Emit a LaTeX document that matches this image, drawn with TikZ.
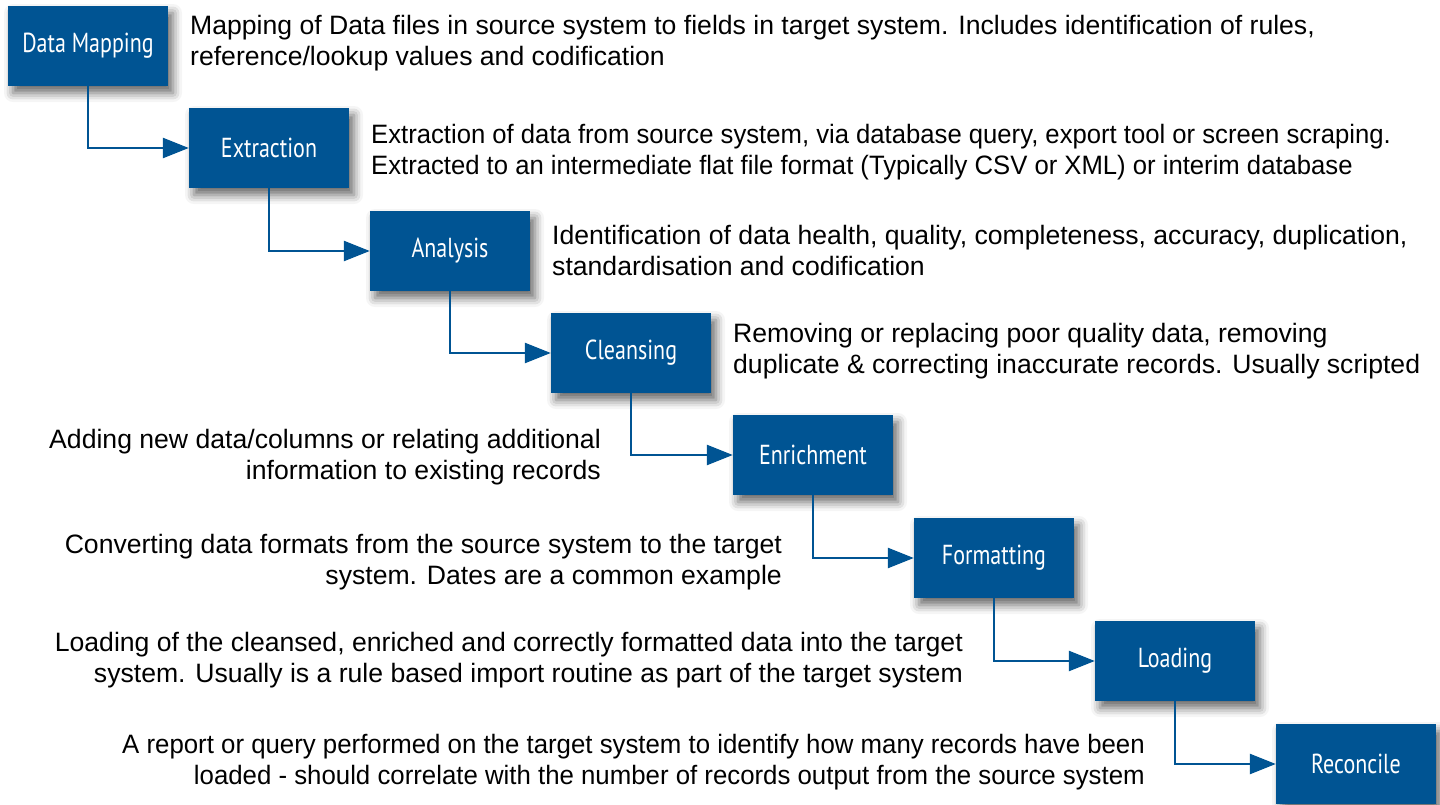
\documentclass[tikz,border=0pt]{standalone}
\usepackage{fontspec}
\setmainfont{Liberation Sans}
\newfontfamily\boxfont[FakeStretch=0.8]{PT Sans}
\usetikzlibrary{arrows.meta,shadows.blur}
\definecolor{stepblue}{RGB}{0,84,147}

\begin{document}
\begin{tikzpicture}[x=1pt,y=-1pt,
    stage/.style={fill=stepblue, minimum width=160pt, minimum height=80pt, inner sep=0pt, text=white,
      font=\boxfont\fontsize{27.5}{30}\selectfont,
      blur shadow={shadow xshift=5pt, shadow yshift=-7pt, shadow blur radius=9pt, shadow opacity=60}},
    info/.style={inner sep=0pt, font=\fontsize{26.6}{31}\selectfont},
    flow/.style={draw=stepblue, line width=2.5pt, -{Triangle[length=26pt,width=20pt]}}]
    \useasboundingbox (0,0) rectangle (1440,804);

    \node (mapping) at (88, 46) [stage] {Data Mapping};
    \node (extraction) at (269, 148) [stage] {Extraction};
    \node (analysis) at (450, 251) [stage] {Analysis};
    \node (cleansing) at (631, 353) [stage] {Cleansing};
    \node (enrichment) at (813, 455) [stage] {Enrichment};
    \node (formatting) at (994, 558) [stage] {Formatting};
    \node (loading) at (1175, 661) [stage] {Loading};
    \node (reconcile) at (1356, 764) [stage] {Reconcile};

    \foreach \a/\b in {mapping/extraction, extraction/analysis, analysis/cleansing, cleansing/enrichment,
      enrichment/formatting, formatting/loading, loading/reconcile}
      \draw[flow] (\a.south) |- (\b.west);

    \node (mapping-text) at (190, 43) [info, anchor=west, align=left] {Mapping of Data files in source system to fields in target system. Includes identification of rules,\\reference/lookup values and codification};
    \node (extraction-text) at (371, 152.5) [info, anchor=west, align=left, xscale=0.965] {Extraction of data from source system, via database query, export tool or screen scraping.\\Extracted to an intermediate flat file format (Typically CSV or XML) or interim database};
    \node (analysis-text) at (552, 250) [info, anchor=west, align=left] {Identification of data health, quality, completeness, accuracy, duplication,\\standardisation and codification};
    \node (cleansing-text) at (733, 351.5) [info, anchor=west, align=left] {Removing or replacing poor quality data, removing\\duplicate \& correcting inaccurate records. Usually scripted};
    \node (enrichment-text) at (601, 457.5) [info, anchor=east, align=right] {Adding new data/columns or relating additional\\information to existing records};
    \node (formatting-text) at (782, 562) [info, anchor=east, align=right] {Converting data formats from the source system to the target\\system. Dates are a common example};
    \node (loading-text) at (963, 660.5) [info, anchor=east, align=right] {Loading of the cleansed, enriched and correctly formatted data into the target\\system. Usually is a rule based import routine as part of the target system};
    \node (reconcile-text) at (1145, 762.5) [info, anchor=east, align=right, xscale=0.97] {A report or query performed on the target system to identify how many records have been\\loaded - should correlate with the number of records output from the source system};
\end{tikzpicture}
\end{document}
